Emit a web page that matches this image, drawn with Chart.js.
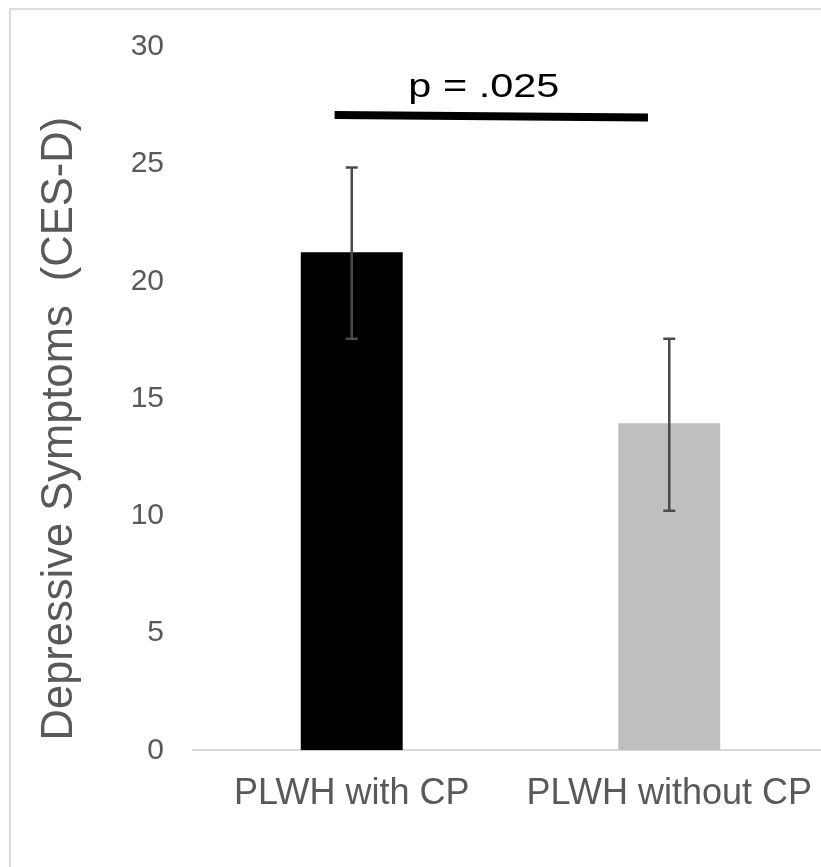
<!DOCTYPE html>
<html>
<head>
<meta charset="utf-8">
<script src="https://cdn.jsdelivr.net/npm/chart.js@4"></script>
<style>
  html, body { margin: 0; padding: 0; background: #fff; overflow: hidden; }
  #wrap { position: relative; width: 821px; height: 867px; overflow: hidden; }
  #frame { position: absolute; left: 9px; top: 8px; width: 1000px; height: 1000px;
           border: 2px solid #dcdcdc; box-sizing: border-box; }
  #box { position: absolute; left: 0; top: 0; width: 830px; height: 867px; }
</style>
</head>
<body>
<div id="wrap">
  <div id="frame"></div>
  <div id="box"><canvas id="chart"></canvas></div>
</div>
<script>
// values
const categories = ['PLWH with CP', 'PLWH without CP'];
const meanScores = [21.25, 13.95];
const errorLow = [17.55, 10.22];
const errorHigh = [24.86, 17.55];
const barColors = ['#000000', '#bfbfbf'];

const yTitle = 'Depressive Symptoms  (CES-D)';
const sigLabel = 'p = .025';
const sigLineX = [-0.054, 0.933];   // category index units
const sigLineY = [27.1, 26.99];
const sigLabelAt = [0.416, 27.85];

const FONT = "'Liberation Sans', Arial, sans-serif";
const TEXT_GRAY = '#595959';

// error bars drawn on top of the bars
const errorBars = {
  id: 'errorBars',
  afterDatasetsDraw(chart) {
    const ctx = chart.ctx;
    const y = chart.scales.y;
    const meta = chart.getDatasetMeta(0);
    ctx.save();
    ctx.strokeStyle = '#4a4a4a';
    ctx.lineWidth = 2.5;
    meta.data.forEach((bar, i) => {
      const top = y.getPixelForValue(errorHigh[i]);
      const bot = y.getPixelForValue(errorLow[i]);
      ctx.beginPath();
      ctx.moveTo(bar.x, top); ctx.lineTo(bar.x, bot);
      ctx.moveTo(bar.x - 6, top); ctx.lineTo(bar.x + 6, top);
      ctx.moveTo(bar.x - 6, bot); ctx.lineTo(bar.x + 6, bot);
      ctx.stroke();
    });
    ctx.restore();
  }
};

// significance bar, p label and the rotated y title
const extras = {
  id: 'extras',
  afterDraw(chart) {
    const ctx = chart.ctx;
    const x = chart.scales.x, y = chart.scales.y;
    ctx.save();
    ctx.strokeStyle = '#000';
    ctx.lineWidth = 8;
    ctx.beginPath();
    ctx.moveTo(x.getPixelForValue(sigLineX[0]), y.getPixelForValue(sigLineY[0]));
    ctx.lineTo(x.getPixelForValue(sigLineX[1]), y.getPixelForValue(sigLineY[1]));
    ctx.stroke();

    ctx.fillStyle = '#000';
    ctx.font = '34px ' + FONT;
    ctx.textAlign = 'center';
    ctx.textBaseline = 'alphabetic';
    ctx.translate(x.getPixelForValue(sigLabelAt[0]), y.getPixelForValue(sigLabelAt[1]));
    ctx.scale(1.22, 1);
    ctx.fillText(sigLabel, 0, 0);
    ctx.restore();

    ctx.save();
    ctx.fillStyle = TEXT_GRAY;
    ctx.font = '43.5px ' + FONT;
    ctx.textAlign = 'center';
    ctx.textBaseline = 'alphabetic';
    ctx.translate(72, (y.top + y.bottom) / 2 + 30);
    ctx.rotate(-Math.PI / 2);
    ctx.fillText(yTitle, 0, 0);
    ctx.restore();
  }
};

new Chart(document.getElementById('chart'), {
  type: 'bar',
  data: {
    labels: categories,
    datasets: [{
      data: meanScores,
      backgroundColor: barColors,
      borderWidth: 0,
      barPercentage: 0.321,
      categoryPercentage: 1
    }]
  },
  options: {
    responsive: true,
    maintainAspectRatio: false,
    animation: false,
    layout: { padding: { top: 42, right: 2, left: 0, bottom: 29.7 } },
    plugins: { legend: { display: false }, tooltip: { enabled: false } },
    scales: {
      x: {
        grid: { display: false, drawTicks: false },
        border: { display: true, color: '#d9d9d9', width: 2 },
        ticks: { color: TEXT_GRAY, font: { family: FONT, size: 36, lineHeight: '87px' }, padding: 0, maxRotation: 0 }
      },
      y: {
        min: 0, max: 30,
        grid: { display: false, drawTicks: false },
        border: { display: false },
        ticks: { stepSize: 5, color: TEXT_GRAY, font: { family: FONT, size: 30 }, padding: 29 },
        afterFit(scale) { scale.width = 193; }
      }
    }
  },
  plugins: [errorBars, extras]
});
</script>
</body>
</html>
